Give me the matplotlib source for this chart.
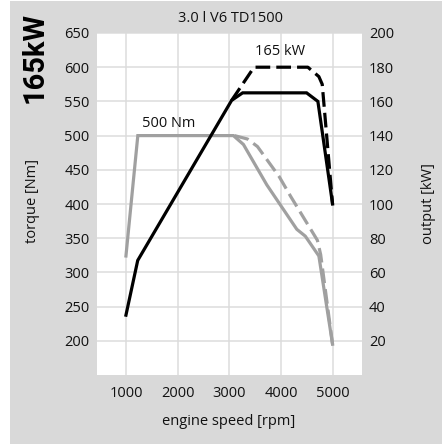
import matplotlib
matplotlib.use("Agg")
import matplotlib.pyplot as plt
from matplotlib.patches import Rectangle
from matplotlib import font_manager

# ---- data ----
rpm_ticks = [1000, 2000, 3000, 4000, 5000]
torque_ticks = [200, 250, 300, 350, 400, 450, 500, 550, 600, 650]
power_ticks = [20, 40, 60, 80, 100, 120, 140, 160, 180, 200]

# torque curve (solid gray)
torque_rpm = [1000, 1230, 3080, 3275, 3405, 3727, 4308, 4472, 4735, 5000]
torque_nm = [324, 500, 500, 487, 470, 428, 363, 353, 324, 195]

# torque curve variant (dashed gray)
torque2_rpm = [3100, 3353, 3546, 3967, 4190, 4706, 4770, 5000]
torque2_nm = [500, 495, 484, 440, 411, 347, 326, 195]

# power curve (solid black)
power_rpm = [1000, 1228, 3046, 3259, 4497, 4716, 5000]
power_kw = [35, 67, 160.6, 165, 165, 160, 100]

# power curve variant (dashed black)
power2_rpm = [3046, 3480, 4522, 4735, 4800, 5000]
power2_kw = [160.6, 180, 180, 174.5, 170, 100]

title = "3.0 l V6 TD1500"
big_label = "165kW"

# ---- fonts ----
names = {f.name for f in font_manager.fontManager.ttflist}
base_font = "Open Sans" if "Open Sans" in names else "DejaVu Sans"
big_font = "Roboto" if "Roboto" in names else base_font
plt.rcParams["font.family"] = [base_font, "DejaVu Sans"]

W, H = 442, 444
fig = plt.figure(figsize=(W / 100, H / 100), dpi=100)
fig.patch.set_facecolor("white")
fig.add_artist(Rectangle((10 / W, 0), 1 - 10 / W, 1 - 1 / H, transform=fig.transFigure,
                         facecolor="#d9d9d9", edgecolor="none", zorder=-10))

left, right, top, bottom = 96.5, 362, 33, 375
ax = fig.add_axes([left / W, 1 - bottom / H, (right - left) / W, (bottom - top) / H])
ax.set_facecolor("white")
ax.set_xlim(430, 5570)
ax.set_ylim(150, 650)
ax.set_xticks(rpm_ticks)
ax.set_yticks(torque_ticks)
ax.grid(True, color="#dcdcdc", linewidth=1.1)
ax.set_axisbelow(True)
for s in ax.spines.values():
    s.set_visible(False)
ax.tick_params(axis="both", length=0, labelsize=10.5, colors="#111111")
ax.tick_params(axis="y", pad=5)
ax.tick_params(axis="x", pad=8)

ax2 = ax.twinx()
ax2.set_ylim(0, 200)
ax2.set_yticks(power_ticks)
for s in ax2.spines.values():
    s.set_visible(False)
ax2.tick_params(axis="y", length=0, labelsize=10.5, pad=5, colors="#111111")

gray = "#a0a0a0"
lw = 2.3
ax.plot(torque_rpm, torque_nm, color=gray, lw=lw, solid_joinstyle="miter", zorder=3)
ax.plot(torque2_rpm, torque2_nm, color=gray, lw=lw, dashes=(4.6, 1.9), zorder=3)
ax2.plot(power_rpm, power_kw, color="black", lw=lw, solid_joinstyle="miter", zorder=4)
ax2.plot(power2_rpm, power2_kw, color="black", lw=lw, dashes=(4.6, 1.9), zorder=4)

ax.text(1310, 507, "500 Nm", fontsize=10.5, ha="left", va="bottom", color="#111111")
ax2.text(3980, 185, "165 kW", fontsize=10.5, ha="center", va="bottom", color="#111111")

fig.text(230 / W, 1 - 18 / H, title, ha="center", va="center", fontsize=10.5, color="#111111")
fig.text(229 / W, 1 - 421 / H, "engine speed [rpm]", ha="center", va="center", fontsize=10.5, color="#111111")
fig.text(33 / W, 1 - 201 / H, "torque [Nm]", rotation=90, ha="center", va="center", fontsize=10.5, color="#111111")
fig.text(428 / W, 1 - 204 / H, "output [kW]", rotation=90, ha="center", va="center", fontsize=10.5, color="#111111")
fig.text(35 / W, 1 - 57.5 / H, big_label, rotation=90, ha="center", va="center", fontsize=21,
         fontweight="bold", family=[big_font, "DejaVu Sans"], color="black")

fig.savefig("out.png", dpi=100, facecolor=fig.get_facecolor())
